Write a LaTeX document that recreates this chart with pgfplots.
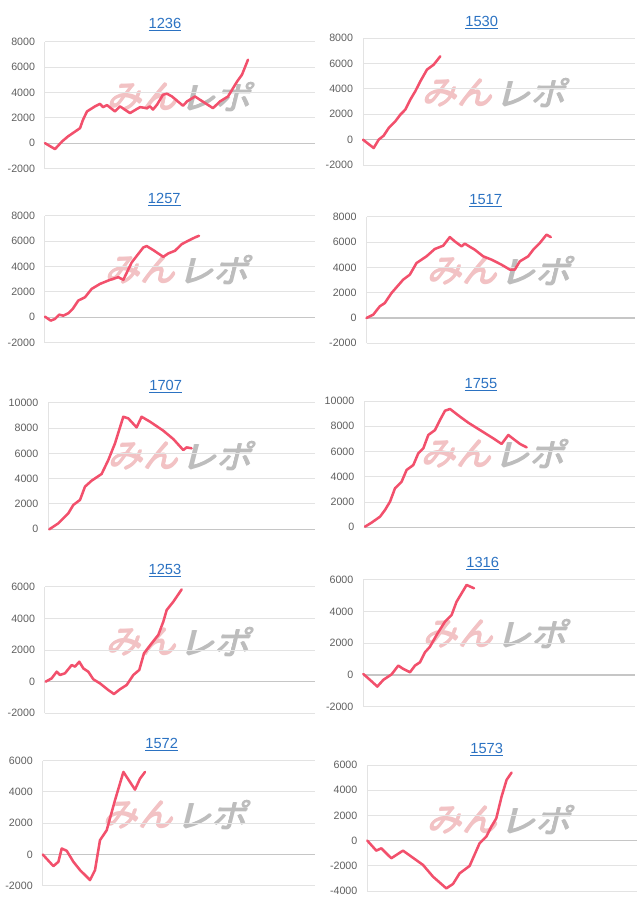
\documentclass[border=0pt]{standalone}
\usepackage{fontspec}
\setmainfont{Liberation Sans}
\newfontfamily\cjk{Noto Sans CJK JP}
\usepackage{pgfplots}
\pgfplotsset{compat=1.18}
\definecolor{linec}{HTML}{F2506C}
\definecolor{gridc}{HTML}{E3E3E3}
\definecolor{zeroc}{HTML}{C6C6C6}
\definecolor{labc}{HTML}{5F5F5F}
\definecolor{titc}{HTML}{2B72C2}
\definecolor{wmpink}{HTML}{F2C2C4}
\definecolor{wmgray}{HTML}{BDBDBD}
\pgfplotsset{
  mini/.style={
    scale only axis, anchor=north west, xmin=0, clip=false,
    scaled y ticks=false,
    axis x line=none, axis y line=left,
    axis line style={draw=gridc, line width=0.75pt, -},
    ymajorgrids, grid style={draw=gridc, line width=0.75pt},
    major tick length=0pt, xtick=\empty,
    yticklabel style={font=\fontsize{8}{9}\selectfont, text=labc, inner sep=0pt, xshift=-7.3pt},
    extra y ticks={0},
    extra y tick style={grid style={draw=zeroc, line width=0.9pt}, yticklabel style={opacity=0}},
  },
  eight/.style={ymin=-2000, ymax=8000, ytick={-2000,0,2000,4000,6000,8000}, yticklabels={-2000,0,2000,4000,6000,8000}},
  ten/.style={ymin=0, ymax=10000, ytick={0,2000,4000,6000,8000,10000}, yticklabels={0,2000,4000,6000,8000,10000}},
  six/.style={ymin=-2000, ymax=6000, ytick={-2000,0,2000,4000,6000}, yticklabels={-2000,0,2000,4000,6000}},
  sixf/.style={ymin=-4000, ymax=6000, ytick={-4000,-2000,0,2000,4000,6000}, yticklabels={-4000,-2000,0,2000,4000,6000}},
  rl/.style={draw=linec, line width=1.9pt, line join=round, line cap=round, mark=none},
}
\newcommand{\ttl}[3]{\node[anchor=base, inner sep=0pt, text=titc, font=\fontsize{11}{13}\selectfont] at (#1pt,#2pt) {\underline{#3}};}
\newcommand{\wm}[2]{%
  \foreach \dx/\dy in {-0.5/0,0.5/0,0/0.5,0/-0.5,0/0}{%
  \node[anchor=east, inner sep=0pt, xslant=0.25, xscale=1.1, text=wmpink, font=\cjk\fontsize{24}{26}\selectfont, xshift=-1pt+\dx pt, yshift=\dy pt] at (#1pt,#2pt) {みん};
  \node[anchor=west, inner sep=0pt, xslant=0.25, xscale=1.1, text=wmgray, font=\cjk\fontsize{24}{26}\selectfont, xshift=1pt+\dx pt, yshift=\dy pt] at (#1pt,#2pt) {レポ};}}
\begin{document}
\begin{tikzpicture}
\useasboundingbox (0,0) rectangle (480pt,-681pt);
% watermarks
\wm{136.5}{-72.75}
\wm{372.75}{-69.75}
\wm{135}{-202.5}
\wm{376.5}{-203.25}
\wm{137.25}{-342}
\wm{372}{-340.5}
\wm{135.75}{-481.5}
\wm{373.5}{-475.5}
\wm{133.5}{-611.25}
\wm{376.5}{-615}
% titles
\ttl{123.75}{-21.45}{1236}
\ttl{361.275}{-19.5}{1530}
\ttl{123.225}{-152.7}{1257}
\ttl{364.275}{-153.2}{1517}
\ttl{124.275}{-292.7}{1707}
\ttl{360.75}{-291.45}{1755}
\ttl{123.75}{-430.7}{1253}
\ttl{362.025}{-425.25}{1316}
\ttl{121.275}{-561.45}{1572}
\ttl{365.025}{-564.75}{1573}
% 1236
\begin{axis}[mini, eight, at={(33.75pt,-31.275pt)}, width=202.5pt, height=95.1pt, xmax=270]
\addplot[rl] coordinates {(0,0)(10,-470)(17,130)(23,530)(35,1180)(38,1840)(42,2500)(50,2900)(55,3100)(58,2840)(62,3000)(70,2500)(75,2900)(85,2370)(95,2840)(102,2760)(105,2900)(108,2650)(112,3030)(118,3820)(122,3900)(127,3680)(138,2950)(142,3290)(150,3680)(155,3420)(168,2760)(175,3290)(183,3680)(192,4850)(197,5400)(203,6580)};
\end{axis}
% 1530
\begin{axis}[mini, eight, at={(272.25pt,-28.725pt)}, width=204pt, height=95.025pt, xmax=272]
\addplot[rl] coordinates {(0,0)(10.7,-660)(15.7,0)(20.7,320)(25.7,920)(32.3,1450)(37.3,1970)(42.3,2370)(47.3,3160)(52.3,3820)(57.3,4600)(64,5530)(70.7,5920)(77.3,6580)};
\end{axis}
% 1257
\begin{axis}[mini, eight, at={(33.75pt,-161.775pt)}, width=202.5pt, height=95.25pt, xmax=270]
\addplot[rl] coordinates {(0,50)(5.7,-260)(10,-130)(14.3,210)(18.3,130)(23.3,320)(27.7,660)(33.3,1320)(40,1580)(46.7,2240)(55,2630)(65,2950)(73.3,3160)(78.3,2950)(86.7,4320)(98.3,5500)(101.7,5610)(108.3,5290)(118.3,4760)(123.3,5030)(130,5240)(136.7,5760)(143.3,6030)(150,6290)(154,6420)};
\end{axis}
% 1517
\begin{axis}[mini, eight, at={(274.875pt,-162.525pt)}, width=201.375pt, height=94.95pt, xmax=268.5]
\addplot[rl] coordinates {(0,0)(6.7,260)(13.3,920)(18.3,1180)(25,1970)(36.7,3030)(43.3,3420)(50,4340)(60,4870)(68.3,5450)(76.7,5710)(83.3,6390)(88.3,6050)(95,5660)(98.3,5870)(108.3,5390)(116.7,4870)(125,4610)(135,4210)(143.3,3820)(148.3,3820)(153.3,4470)(161.7,4870)(166.7,5390)(173.3,5920)(180,6580)(184.3,6390)};
\end{axis}
% 1707
\begin{axis}[mini, ten, at={(36.225pt,-302.025pt)}, width=200.025pt, height=94.95pt, xmax=266.7]
\addplot[rl] coordinates {(1,0)(10,470)(20,1260)(25,1920)(31.7,2320)(36.7,3370)(43.3,3840)(53.3,4370)(60,5470)(66.7,6790)(75,8890)(80,8760)(88.3,8050)(93.3,8890)(101.7,8500)(115,7790)(125,7130)(135,6260)(138.3,6470)(143.3,6400)};
\end{axis}
% 1755
\begin{axis}[mini, ten, at={(273.225pt,-300.75pt)}, width=203.025pt, height=94.725pt, xmax=270.7]
\addplot[rl] coordinates {(0.7,50)(7.3,370)(15.7,840)(20.7,1370)(25.7,2030)(30.7,3090)(37.3,3610)(42.3,4540)(49,4930)(54,5860)(59,6250)(64,7310)(70.7,7700)(75.7,8500)(80.7,9230)(85.7,9370)(95.7,8760)(104,8280)(115.7,7700)(129,7040)(137.3,6600)(144,7310)(149,7000)(155.7,6600)(162.3,6330)};
\end{axis}
% 1253
\begin{axis}[mini, six, at={(33.75pt,-440.025pt)}, width=202.5pt, height=94.95pt, xmax=270]
\addplot[rl] coordinates {(0.7,0)(6.7,210)(11.7,630)(15,420)(20,530)(26.7,1050)(30,950)(34.3,1260)(38.3,840)(43.3,630)(48.3,150)(55,-110)(63.3,-530)(69,-780)(75,-480)(81.7,-210)(88.3,420)(94.3,740)(99,1790)(106.7,2420)(113.3,2950)(118.3,3790)(121.7,4530)(128.3,5050)(136.7,5830)};
\end{axis}
% 1316
\begin{axis}[mini, six, at={(272.475pt,-434.775pt)}, width=203.775pt, height=95.25pt, xmax=271.7]
\addplot[rl] coordinates {(0,60)(6.7,-310)(14,-730)(20,-310)(28.3,40)(35,590)(40,380)(46.7,170)(51.7,590)(56.7,800)(61.7,1430)(66.7,1780)(73.3,2520)(81.7,3360)(88.3,3780)(93.3,4620)(98.3,5140)(103.3,5670)(110.7,5460)};
\end{axis}
% 1572
\begin{axis}[mini, six, at={(32.025pt,-570.525pt)}, width=204.225pt, height=93.75pt, xmax=272.3]
\addplot[rl] coordinates {(0,0)(10.7,-745)(15.7,-470)(19,380)(24,235)(30.7,-470)(37.3,-1000)(45.7,-1530)(47.3,-1640)(52.3,-1000)(57.3,915)(64,1550)(72.3,3470)(80.7,5280)(92.3,4150)(97.3,4850)(102.3,5280)};
\end{axis}
% 1573
\begin{axis}[mini, sixf, at={(275.475pt,-573.75pt)}, width=202.275pt, height=94.5pt, xmax=269.7]
\addplot[rl] coordinates {(0,0)(9,-795)(14,-610)(24,-1400)(35.7,-795)(55.7,-1930)(65.7,-2860)(79,-3790)(85.7,-3440)(92.3,-2600)(102.3,-2010)(112.3,-210)(119,320)(124,1110)(129,1770)(134.3,3500)(139.3,4820)(144.3,5400)};
\end{axis}
\end{tikzpicture}
\end{document}
